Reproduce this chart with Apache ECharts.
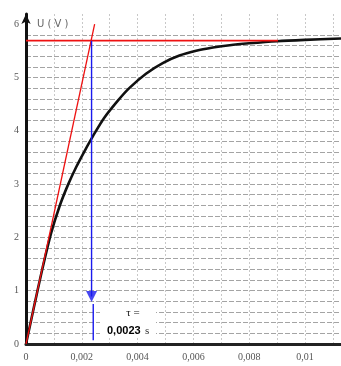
<!DOCTYPE html>
<html>
<head>
<meta charset="utf-8">
<script src="https://cdn.jsdelivr.net/npm/echarts@6/dist/echarts.min.js"></script>
<style>html,body{margin:0;padding:0;background:#fff;}#c{width:341px;height:366px;}</style>
</head>
<body>
<div id="c"></div>
<script>
// Charge curve (t in s, U in V)
var curveT = [0, 0.0003, 0.0006, 0.0009, 0.0012, 0.0015, 0.0018, 0.0021, 0.0024, 0.0028, 0.0033, 0.0037, 0.0043, 0.0049, 0.0055, 0.0061, 0.0067, 0.0073, 0.0080, 0.0090, 0.0100, 0.01129];
var curveU = [0, 0.73, 1.44, 2.08, 2.58, 2.98, 3.32, 3.62, 3.90, 4.24, 4.57, 4.80, 5.07, 5.27, 5.41, 5.50, 5.56, 5.605, 5.64, 5.68, 5.705, 5.73];
// Tangent at origin
var tangentT = [0, 0.00246];
var tangentU = [0, 6.0];
// Asymptote
var asymT = [0, 0.00903];
var asymU = [5.69, 5.69];
// Tau marker
var tau = 0.00235;
var tauLowT = 0.00241;
var arrowTopU = 5.69, arrowTipU = 0.79, lowTopU = 0.75, lowBottomU = 0.07;
// Tick labels
var xTickLabels = ["0", "0,002", "0,004", "0,006", "0,008", "0,01"];
var yTickLabels = ["0", "1", "2", "3", "4", "5", "6"];
var axisTitle = "U ( V )";
var annot = ["\u03c4 =", "0,0023", "s"];

function zip(a, b) { return a.map(function (v, i) { return [v, b[i]]; }); }

var ySplitColors = [];
for (var i = 0; i < 40; i++) ySplitColors.push(i < 30 ? '#a4a4a4' : 'rgba(0,0,0,0)');

var chart = echarts.init(document.getElementById('c'), null, {renderer: 'canvas'});
chart.setOption({
  animation: false,
  backgroundColor: '#fff',
  grid: {left: 26, right: 0, top: 14, bottom: 22, containLabel: false},
  xAxis: {
    type: 'value', min: 0, max: 0.01129, interval: 0.001,
    axisLine: {show: true, onZero: false, lineStyle: {color: '#222', width: 3}},
    axisTick: {show: false},
    axisLabel: {
      color: '#555', fontFamily: 'Liberation Serif', fontSize: 10, margin: 8,
      showMaxLabel: false,
      formatter: function (v) {
        var k = Math.round(v * 1000);
        if (Math.abs(v * 1000 - k) > 1e-6 || k % 2) return '';
        return xTickLabels[k / 2] || '';
      }
    },
    splitLine: {show: true, lineStyle: {color: '#c8c8c8', type: [2, 2], width: 1}}
  },
  yAxis: {
    type: 'value', min: 0, max: 6.19, interval: 0.2,
    axisLine: {show: true, symbol: ['none', 'arrow'], symbolSize: [7, 10], lineStyle: {color: '#111', width: 3}},
    axisTick: {show: false},
    axisLabel: {
      color: '#555', fontFamily: 'Liberation Serif', fontSize: 10, margin: 7,
      formatter: function (v) {
        var k = Math.round(v);
        if (Math.abs(v - k) > 1e-6) return '';
        return yTickLabels[k] || '';
      }
    },
    splitLine: {show: true, lineStyle: {color: ySplitColors, type: [5, 2], width: 1}}
  },
  series: [
    {type: 'line', data: zip(curveT, curveU), smooth: 0.3, showSymbol: false, z: 3,
     lineStyle: {color: '#111', width: 2.6}},
    {type: 'line', data: zip(tangentT, tangentU), showSymbol: false, z: 4,
     lineStyle: {color: '#ee1111', width: 1.3}},
    {type: 'line', data: zip(asymT, asymU), showSymbol: false, z: 4,
     lineStyle: {color: '#ee1111', width: 1.6}},
    {type: 'line', data: [[tau, arrowTopU], [tau, arrowTipU + 0.1]], showSymbol: false, z: 5,
     lineStyle: {color: '#1a1aee', width: 1.4}},
    {type: 'scatter', data: [[tau, arrowTipU + 0.103]], symbol: 'triangle', symbolRotate: 180,
     symbolSize: [11, 11], z: 6, itemStyle: {color: '#1a1aee'}},
    {type: 'line', data: [[tauLowT, lowTopU], [tauLowT, lowBottomU]], showSymbol: false, z: 5,
     lineStyle: {color: '#1a1aee', width: 1.4}}
  ],
  graphic: [
    {type: 'text', left: 37, top: 19, style: {text: axisTitle, fill: '#666', font: '10px "DejaVu Sans"'}},
    {type: 'rect', shape: {x: 100, y: 306, width: 56, height: 32}, style: {fill: '#fff'}, z: 10},
    {type: 'text', x: 133, y: 313, style: {text: annot[0], fill: '#111', font: '11px "Liberation Serif"', align: 'center', verticalAlign: 'middle'}, z: 11},
    {type: 'text', x: 107, y: 331, style: {text: annot[1], fill: '#000', font: 'bold 11px "Liberation Sans"', verticalAlign: 'middle'}, z: 11},
    {type: 'text', x: 145, y: 331, style: {text: annot[2], fill: '#333', font: '11px "Liberation Serif"', verticalAlign: 'middle'}, z: 11}
  ]
});
</script>
</body>
</html>
